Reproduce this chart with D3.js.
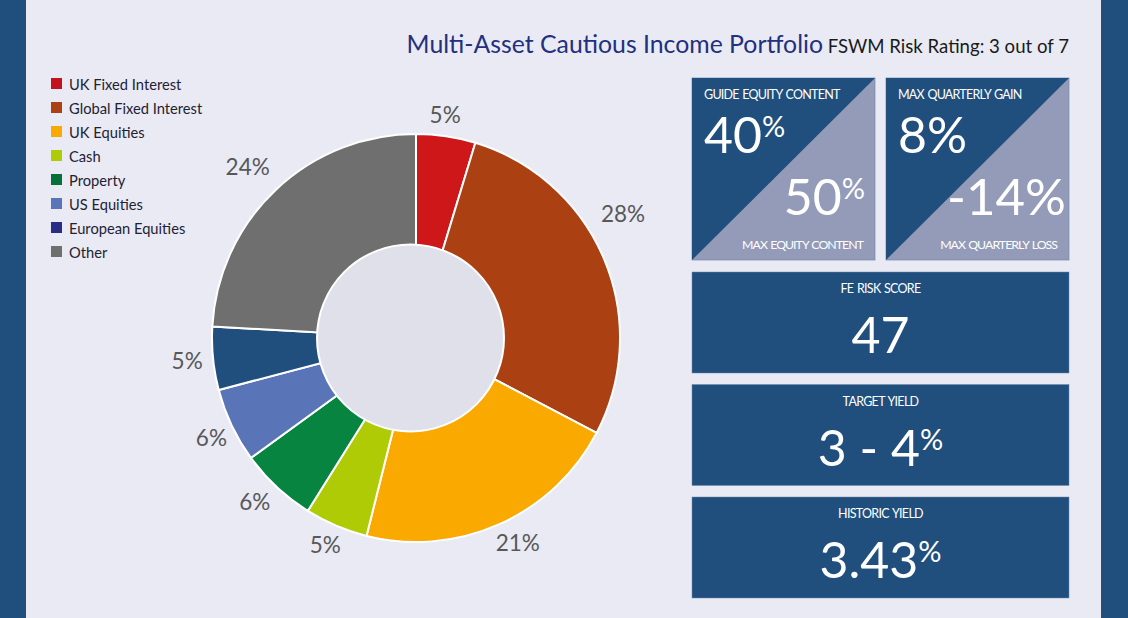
<!DOCTYPE html>
<html><head><meta charset="utf-8">
<script src="https://cdn.jsdelivr.net/npm/d3@7/dist/d3.min.js"></script>
<style>html,body{margin:0;padding:0;background:#e9eaf3;overflow:hidden}svg{display:block}</style>
</head><body><svg id="c" width="1128" height="618"></svg>
<script>
const categories=["UK Fixed Interest","Global Fixed Interest","UK Equities","Cash","Property","US Equities","European Equities","Other"];
const values=[4.7,28,21.2,5,6.1,5.9,5,24.1];
const legendColors=["#c5121f","#ab4013","#f9a900","#afcb05","#06703a","#5a75b7","#2a2d85","#6f6f6f"];
const sliceColors=["#cd1719","#ab4013","#f9a900","#afcb05","#068440","#5a75b7","#204f7e","#6f6f6f"];
const labelNudges=[[-5,6],[-7,-35],[7,-7],[0,-7],[-3,-6],[5,0],[2,0],[-9,-2]];
const font="Lato, 'Open Sans', sans-serif";
const navy="#204f7e", pale="#939bb8", bg="#e9eaf3", edge="#6f89ad";
const svg=d3.select("#c").style("font-family",font);
svg.append("rect").attr("width",1128).attr("height",618).attr("fill",bg);
svg.append("rect").attr("width",26).attr("height",618).attr("fill",navy);
svg.append("rect").attr("x",1101).attr("width",27).attr("height",618).attr("fill",navy);
// title
const t=svg.append("text").attr("x",1069).attr("y",53).attr("text-anchor","end");
t.append("tspan").text("Multi-Asset Cautious Income Portfolio").attr("font-size",24.8).attr("fill","#22307f");
t.append("tspan").text(" FSWM Risk Rating: 3 out of 7").attr("font-size",18.6).attr("fill","#1a1a1a");
// legend
const lg=svg.append("g").selectAll("g").data(categories).join("g").attr("transform",(d,i)=>`translate(51,${78+i*24})`);
lg.append("rect").attr("width",11).attr("height",11).attr("fill",(d,i)=>legendColors[i]);
lg.append("text").attr("x",18).attr("y",11.5).attr("font-size",14.7).attr("fill","#1f2233").text(d=>d);
// donut: slices radiate from the pie centre, the hole sits slightly left of it
const cx=416,cy=338,R=204;
const pie=d3.pie().sort(null)(values);
const arc=d3.arc().innerRadius(0).outerRadius(R);
const labelArc=d3.arc().innerRadius(R+28).outerRadius(R+28);
const g=svg.append("g").attr("transform",`translate(${cx},${cy})`);
g.selectAll("path").data(pie).join("path").attr("d",arc).attr("fill",(d,i)=>sliceColors[i]).attr("stroke","#fff").attr("stroke-width",2);
g.append("circle").attr("cx",-5.5).attr("r",93.5).attr("fill","#dfe0ea").attr("stroke","#fff").attr("stroke-width",2);
g.selectAll("text").data(pie).join("text").attr("transform",(d,i)=>{const c=labelArc.centroid(d);return `translate(${c[0]+labelNudges[i][0]},${c[1]+labelNudges[i][1]})`;})
 .attr("text-anchor","middle").attr("dy","0.36em").attr("font-size",22.5).attr("fill","#58585a")
 .text(d=>d3.format(".0f")(d.value)+"%");
// split tiles
const tile=(x,topLabel,topVal,topPct,botVal,botPct,botLabel,botLabelX,botValX,botSize)=>{
 const s=183,y=78;
 svg.append("rect").attr("x",x).attr("y",y).attr("width",s).attr("height",182).attr("fill",pale).attr("stroke",edge).attr("stroke-width",0.7);
 svg.append("path").attr("d",d3.line()([[x,y],[x+s,y],[x,y+182]])).attr("fill",navy);
 svg.append("text").attr("x",x+12).attr("y",y+21).attr("font-size",12.5).attr("fill","#fff").attr("letter-spacing","-0.75").attr("word-spacing","1").text(topLabel);
 const a=svg.append("text").attr("x",x+12).attr("y",y+75).attr("fill","#fff");
 a.append("tspan").attr("font-size",50).text(topVal);
 if(topPct)a.append("tspan").attr("font-size",29).attr("dy",-16).text("%");
 const c=svg.append("text").attr("x",botValX).attr("y",y+137).attr("text-anchor","end").attr("fill","#fff");
 c.append("tspan").attr("font-size",botSize).text(botVal);
 if(botPct)c.append("tspan").attr("font-size",29).attr("dy",-16).text("%");
 svg.append("text").attr("x",botLabelX).attr("y",y+171).attr("text-anchor","end").attr("font-size",12.3).attr("fill","#fff").attr("letter-spacing","-0.95").attr("word-spacing","1").text(botLabel);
};
tile(692,"GUIDE EQUITY CONTENT","40",true,"50",true,"MAX EQUITY CONTENT",863,865,50);
tile(886,"MAX QUARTERLY GAIN","8%",false,"-14%",false,"MAX QUARTERLY LOSS",1057,1066,51);
// wide tiles
const wide=(y,label,val,pct)=>{
 svg.append("rect").attr("x",692).attr("y",y).attr("width",377).attr("height",101).attr("fill",navy).attr("stroke",edge).attr("stroke-width",0.5);
 svg.append("text").attr("x",880.5).attr("y",y+21).attr("text-anchor","middle").attr("font-size",12.5).attr("fill","#fff").attr("letter-spacing","-0.7").attr("word-spacing","1").text(label);
 const v=svg.append("text").attr("x",880.5).attr("y",y+81).attr("text-anchor","middle").attr("fill","#fff");
 v.append("tspan").attr("font-size",50).text(val);
 if(pct)v.append("tspan").attr("font-size",29).attr("dy",-16).text("%");
};
wide(272,"FE RISK SCORE","47",false);
wide(384.5,"TARGET YIELD","3 - 4",true);
wide(497,"HISTORIC YIELD","3.43",true);
</script></body></html>
